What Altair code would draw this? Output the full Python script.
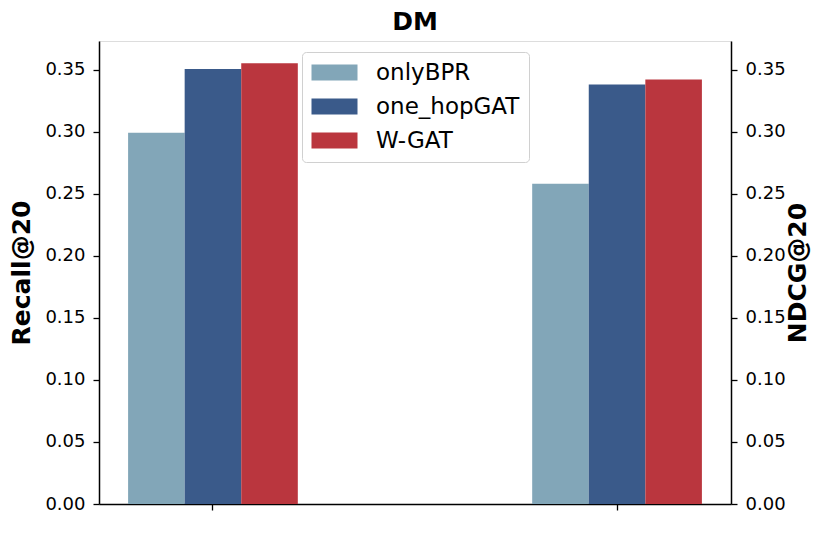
import altair as alt
import pandas as pd

metrics = ["Recall@20", "NDCG@20"]
methods = ["onlyBPR", "one_hopGAT", "W-GAT"]
recall_values = [0.299, 0.3505, 0.355]
ndcg_values = [0.258, 0.338, 0.342]
colors = ["#82A6B8", "#3A5A8A", "#BA363E"]
y_ticks = [0.0, 0.05, 0.10, 0.15, 0.20, 0.25, 0.30, 0.35]

rows = []
for m, v in zip(methods, recall_values):
    rows.append({"metric": "Recall@20", "method": m, "value": v})
for m, v in zip(methods, ndcg_values):
    rows.append({"metric": "NDCG@20", "method": m, "value": v})
df = pd.DataFrame(rows)

FONT = "DejaVu Sans"

x_enc = alt.X(
    "metric:N",
    scale=alt.Scale(domain=metrics, paddingInner=0.58, paddingOuter=0.072),
    axis=alt.Axis(labels=False, title=None, ticks=True, tickSize=6, tickWidth=1.3,
                  domainColor="black", domainWidth=1.5, tickColor="black", grid=False),
)
xoff_enc = alt.XOffset("method:N", scale=alt.Scale(domain=methods, paddingInner=0, paddingOuter=0))
color_enc = alt.Color(
    "method:N",
    scale=alt.Scale(domain=methods, range=colors),
    legend=alt.Legend(
        title=None, orient="none", legendX=203, legendY=11,
        symbolType="M-2.556,-0.889L2.556,-0.889L2.556,0.889L-2.556,0.889Z", symbolSize=324,
        symbolOffset=12, symbolStrokeWidth=0, labelFontSize=23, labelFont=FONT,
        labelColor="black", labelOffset=30, rowPadding=10, padding=9,
        strokeColor="#d0d0d0", cornerRadius=4, fillColor="white",
    ),
)

def yaxis(title, orient, baseline, pad):
    return alt.Axis(
        title=title, orient=orient, values=y_ticks, format=".2f", grid=False,
        titleFontSize=25, titleFont=FONT, titleFontWeight="bold", titleColor="black",
        titleAngle=270, titleBaseline=baseline, titlePadding=pad,
        labelFontSize=18, labelFont=FONT, labelColor="black", labelPadding=8,
        tickSize=6, tickWidth=1.3, tickColor="black", domainColor="black", domainWidth=1.5,
    )

left = alt.Chart(df).transform_filter(alt.datum.metric == "Recall@20").mark_bar().encode(
    x=x_enc, xOffset=xoff_enc, color=color_enc,
    y=alt.Y("value:Q", scale=alt.Scale(domain=[0, 0.373], nice=False, zero=True),
            axis=yaxis("Recall@20", "left", "bottom", 10)),
)
right = alt.Chart(df).transform_filter(alt.datum.metric == "NDCG@20").mark_bar().encode(
    x=x_enc, xOffset=xoff_enc, color=color_enc,
    y=alt.Y("value:Q", scale=alt.Scale(domain=[0, 0.373], nice=False, zero=True),
            axis=yaxis("NDCG@20", "right", "top", 0)),
)

chart = alt.layer(left, right).resolve_scale(y="independent").properties(
    width=632, height=463,
    title=alt.TitleParams("DM", fontSize=25, font=FONT, fontWeight="bold", color="black",
                          anchor="middle", offset=6),
    autosize=alt.AutoSizeParams(type="none"),
    padding={"left": 91, "top": 33, "right": 91, "bottom": 42},
).configure_view(stroke="black", strokeWidth=1.5).configure(background="white")

chart.save("out.html", embed_options={"renderer": "svg", "actions": False})
